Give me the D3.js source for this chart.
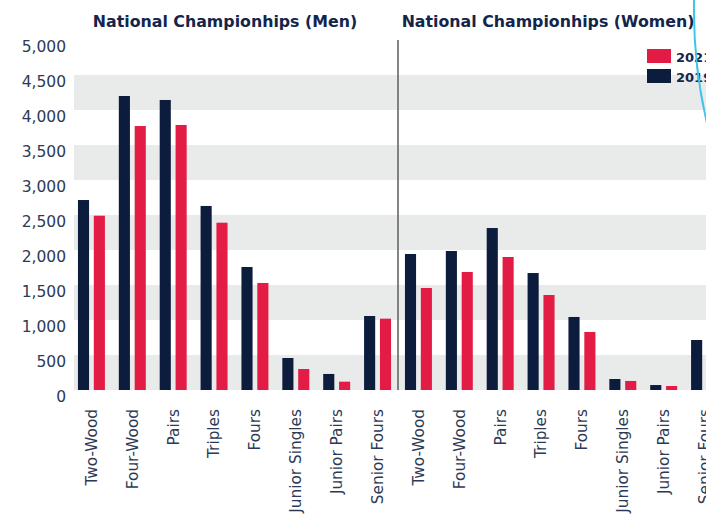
<!DOCTYPE html>
<html lang="en">
<head>
<meta charset="utf-8">
<script src="https://cdnjs.cloudflare.com/ajax/libs/d3/7.8.5/d3.min.js"></script>
<style type="text/css">
body {
	margin: 0;
	overflow: hidden;
	background: #fff;
	font-family: "DejaVu Sans", Verdana, sans-serif;
}
.tick text {
	fill: #2d3a55;
}
</style>
</head>
<body>
<script type="text/javascript">

var width = 706;
var height = 515;

// categories, men then women
var events = ["Two-Wood", "Four-Wood", "Pairs", "Triples", "Fours", "Junior Singles", "Junior Pairs", "Senior Fours"];
var categories = events.map(function(e) { return "M " + e; }).concat(events.map(function(e) { return "W " + e; }));

// entries
var entries2019 = [2714, 4200, 4143, 2629, 1757, 457, 229, 1057,
                   1943, 1986, 2314, 1671, 1043, 157, 71, 714];
var entries2021 = [2490, 3771, 3786, 2390, 1529, 300, 119, 1019,
                   1457, 1686, 1900, 1357, 829, 129, 57, 650];

var yTicks = [0, 500, 1000, 1500, 2000, 2500, 3000, 3500, 4000, 4500, 5000];
var years = ["2019", "2021"];
var colors = {"2019": "#0b1c3d", "2021": "#e31c45"};

var margin = {left: 74, top: 40, bottom: 125};

var svg = d3.select("body")
			.append("svg")
			.attr("width", width)
			.attr("height", height);

var y = d3.scaleLinear()
			.domain([0, 5000])
			.range([390, 40]);

// plot runs past the right edge of the window
var x0 = d3.scaleBand()
			.domain(categories)
			.range([71, 725])
			.paddingInner(0.34)
			.paddingOuter(0.17);

var x1 = d3.scaleBand()
			.domain(years)
			.range([0, x0.bandwidth()])
			.paddingInner(0.3);

// alternating grey bands
var bands = yTicks.slice(0, -1).filter(function(d, i) { return i % 2 == 0; });
svg.append("g")
	.selectAll("rect")
	.data(bands)
	.enter()
	.append("rect")
	.attr("x", margin.left)
	.attr("width", width - margin.left)
	.attr("y", function(d) { return y(d + 500); })
	.attr("height", function(d) { return y(d) - y(d + 500); })
	.style("fill", "#e9ebea");

// y axis
var yAxis = svg.append("g")
	.attr("transform", "translate(" + margin.left + ",0)")
	.call(d3.axisLeft(y).tickValues(yTicks).tickSize(0).tickPadding(8).tickFormat(d3.format(",")));
yAxis.select(".domain").remove();
yAxis.selectAll("text")
	.attr("dy", "0.75em")
	.style("font-size", "15.5px")
	.style("font-family", "'DejaVu Sans', Verdana, sans-serif");

// bars
var groups = svg.append("g")
	.selectAll("g")
	.data(categories)
	.enter()
	.append("g")
	.attr("transform", function(d) { return "translate(" + x0(d) + ",0)"; });

groups.selectAll("rect")
	.data(function(d, i) {
		return [{year: "2019", value: entries2019[i]}, {year: "2021", value: entries2021[i]}];
	})
	.enter()
	.append("rect")
	.attr("x", function(d) { return x1(d.year); })
	.attr("width", x1.bandwidth())
	.attr("y", function(d) { return y(d.value); })
	.attr("height", function(d) { return y(0) - y(d.value); })
	.style("fill", function(d) { return colors[d.year]; });

// x axis labels
var xAxis = svg.append("g")
	.attr("transform", "translate(0," + y(0) + ")")
	.call(d3.axisBottom(x0).tickSize(0).tickPadding(0).tickFormat(function(d) { return d.slice(2); }));
xAxis.select(".domain").remove();
xAxis.selectAll("text")
	.attr("transform", "rotate(-90)")
	.attr("x", -19)
	.attr("y", 0)
	.attr("dy", "0.35em")
	.style("text-anchor", "end")
	.style("font-size", "15.3px")
	.style("font-family", "'DejaVu Sans', Verdana, sans-serif");

// divider between men and women
var divX = (x0("M Senior Fours") + x0.bandwidth() + x0("W Two-Wood")) / 2;
svg.append("line")
	.attr("x1", divX)
	.attr("x2", divX)
	.attr("y1", 40)
	.attr("y2", y(0))
	.style("stroke", "#666")
	.style("stroke-width", 1.6);

// panel titles
svg.append("text")
	.attr("x", 225)
	.attr("y", 27)
	.attr("text-anchor", "middle")
	.style("font-size", "15.8px")
	.style("font-weight", "bold")
	.style("fill", "#13254a")
	.text("National Championhips (Men)");

svg.append("text")
	.attr("x", 548)
	.attr("y", 27)
	.attr("text-anchor", "middle")
	.style("font-size", "15.8px")
	.style("font-weight", "bold")
	.style("fill", "#13254a")
	.text("National Championhips (Women)");

// legend
var legend = svg.append("g")
	.selectAll("g")
	.data(["2021", "2019"])
	.enter()
	.append("g")
	.attr("transform", function(d, i) { return "translate(647," + (49 + i * 20) + ")"; });

legend.append("rect")
	.attr("width", 24)
	.attr("height", 14)
	.style("fill", function(d) { return colors[d]; });

legend.append("text")
	.attr("x", 29)
	.attr("y", 12.5)
	.style("font-size", "13px")
	.style("font-weight", "bold")
	.style("fill", "#13254a")
	.text(function(d) { return d; });

// light blue arc at the top right corner
svg.append("path")
	.attr("d", d3.arc()({innerRadius: 500, outerRadius: 502, startAngle: -Math.PI / 2 - 0.3, endAngle: -Math.PI / 2 + 0.1}))
	.attr("transform", "translate(1195,10)")
	.style("fill", "#3ec3ea");

</script>
</body>
</html>
